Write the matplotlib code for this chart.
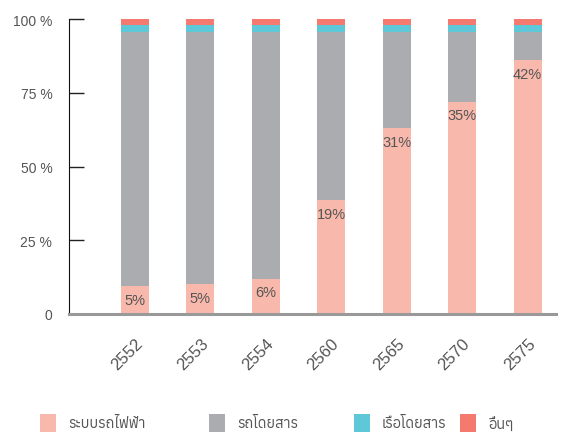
import matplotlib
matplotlib.use("Agg")
import matplotlib.pyplot as plt
from matplotlib.patches import Rectangle

THAI = 'Anuphan'
plt.rcParams['font.family'] = ['Liberation Sans', THAI, 'DejaVu Sans']

years = ['2552', '2553', '2554', '2560', '2565', '2570', '2575']
rail = [9.5, 10, 12, 38.5, 63, 72, 86]
bus = [86.2, 85.7, 83.7, 57.2, 32.7, 23.7, 9.7]
boat = [2.3, 2.3, 2.3, 2.3, 2.3, 2.3, 2.3]
other = [2, 2, 2, 2, 2, 2, 2]
rail_labels = ['5%', '5%', '6%', '19%', '31%', '35%', '42%']

series = [rail, bus, boat, other]
names = ['ระบบรถไฟฟ้า', 'รถโดยสาร', 'เรือโดยสาร', 'อื่นๆ']
colors = ['#F8B9AC', '#ABACAF', '#5FC8D8', '#F47A6F']

fig = plt.figure(figsize=(5.73, 4.39), dpi=100)
ax = fig.add_axes([0.1204, 0.2825, 0.8496, 0.6719])

x = list(range(len(years)))
bottom = [0] * len(years)
for vals, col in zip(series, colors):
    ax.bar(x, vals, width=0.43, bottom=bottom, color=col, linewidth=0)
    bottom = [b + v for b, v in zip(bottom, vals)]

for xi, top, lab in zip(x, rail, rail_labels):
    ax.annotate(lab, (xi, top), xytext=(0, -10), textcoords='offset points',
                ha='center', va='center', fontsize=10.5, color='#555555')

ax.set_xlim(-1.008, 6.43)
ax.set_ylim(0, 100)
ax.set_yticks([0, 25, 50, 75, 100])
ax.set_yticklabels(['0', '25 %', '50 %', '75 %', '100 %'])
ax.tick_params(axis='y', direction='in', length=11, width=1, colors='#222222',
               labelcolor='#555555', labelsize=10, pad=12)
ax.set_xticks(x)
ax.set_xticklabels(years, rotation=45, ha='right', rotation_mode='anchor',
                   fontsize=12, color='#555555')
ax.tick_params(axis='x', length=0, pad=15)

for s in ['top', 'right']:
    ax.spines[s].set_visible(False)
ax.spines['left'].set_color('#111111')
ax.spines['bottom'].set_color('#999999')
ax.spines['bottom'].set_linewidth(2.2)

# legend drawn by hand, the gaps in the original are uneven
leg_x = [40, 209, 354, 460]
for lx, name, col in zip(leg_x, names, colors):
    fig.patches.append(Rectangle((lx / 573, 1 - 433 / 439), 16 / 573, 18 / 439,
                                 transform=fig.transFigure, color=col, linewidth=0))
    fig.text((lx + 28) / 573, 1 - 424 / 439, name, fontsize=10.5, color='#555555',
             va='center', ha='left', family=[THAI, 'DejaVu Sans'])

fig.savefig('out.png', dpi=100)
